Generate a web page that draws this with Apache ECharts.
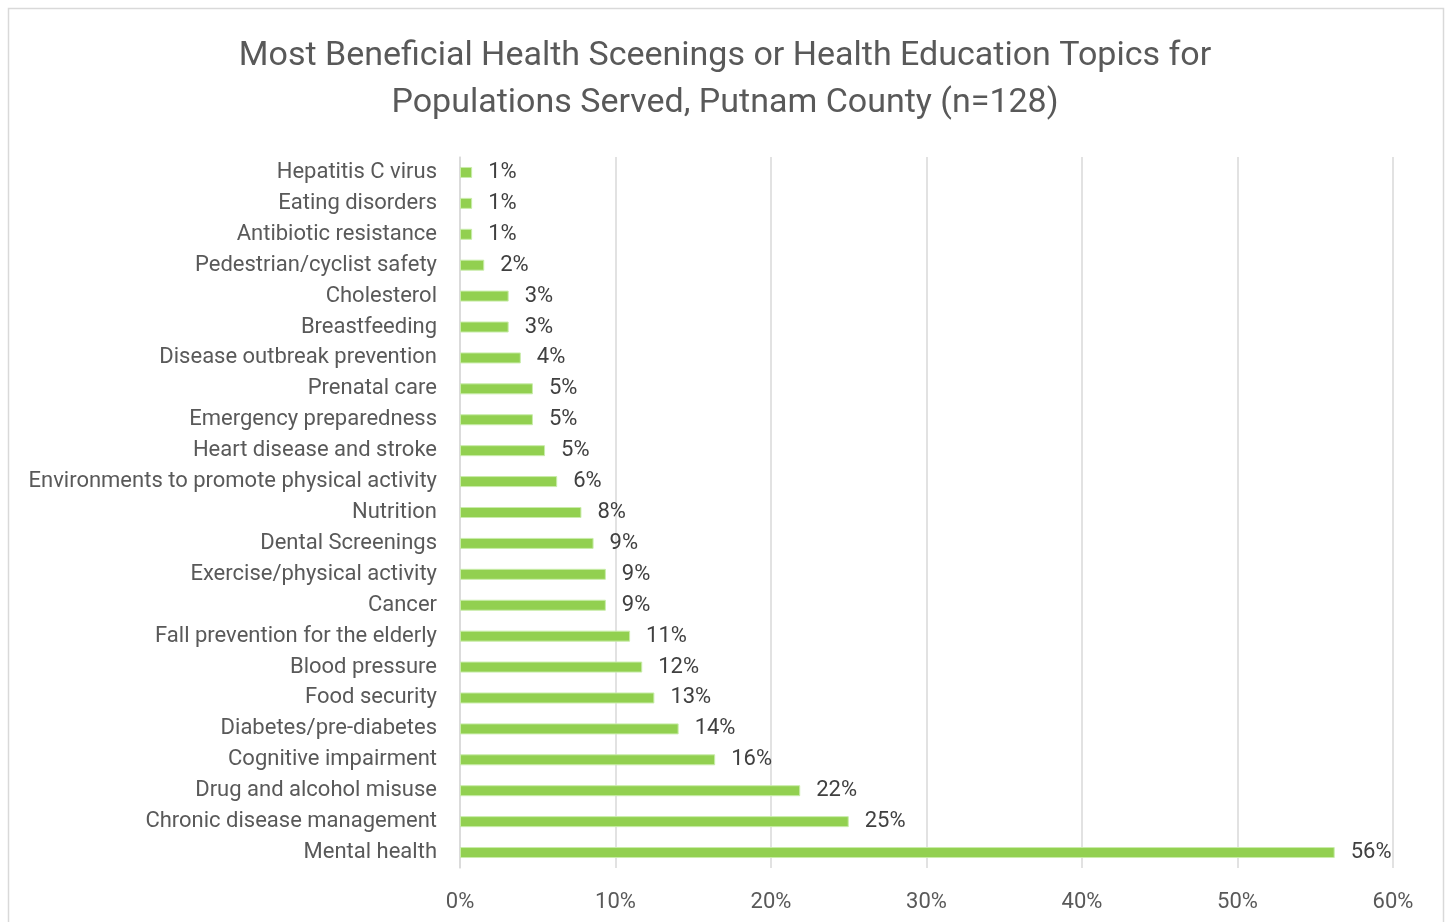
<!DOCTYPE html>
<html><head><meta charset="utf-8">
<script src="https://cdn.jsdelivr.net/npm/echarts@6/dist/echarts.min.js"></script>
<style>html,body{margin:0;padding:0;background:#fff}#c{width:1450px;height:922px}</style>
</head><body><div id="c"></div>
<script>
const categories = [
  "Hepatitis C virus","Eating disorders","Antibiotic resistance","Pedestrian/cyclist safety",
  "Cholesterol","Breastfeeding","Disease outbreak prevention","Prenatal care",
  "Emergency preparedness","Heart disease and stroke","Environments to promote physical activity",
  "Nutrition","Dental Screenings","Exercise/physical activity","Cancer",
  "Fall prevention for the elderly","Blood pressure","Food security","Diabetes/pre-diabetes",
  "Cognitive impairment","Drug and alcohol misuse","Chronic disease management","Mental health"
];
const values = [0.78,0.78,0.78,1.56,3.13,3.13,3.91,4.69,4.69,5.47,6.25,7.81,8.59,9.38,9.38,10.94,11.72,12.5,14.06,16.41,21.88,25.0,56.25];
const xTicks = [0,10,20,30,40,50,60];
const titleText = "Most Beneficial Health Sceenings or Health Education Topics for\nPopulations Served, Putnam County (n=128)";

const font = "Roboto";
const chart = echarts.init(document.getElementById('c'), null, {renderer:'canvas'});
chart.setOption({
  backgroundColor:'#fff',
  animation:false,
  title:{text:titleText,left:'center',top:28,textStyle:{fontFamily:font,fontSize:34,fontWeight:'normal',color:'#595959',lineHeight:47}},
  graphic:[{type:'rect',shape:{x:8.5,y:8.5,width:1435,height:920},style:{fill:'none',stroke:'#d9d9d9',lineWidth:1.5},silent:true}],
  grid:{left:460,right:57,top:157,bottom:54,containLabel:false},
  xAxis:{type:'value',min:xTicks[0],max:xTicks[xTicks.length-1],interval:10,
    axisLine:{show:false},axisTick:{show:false},
    splitLine:{lineStyle:{color:'#d9d9d9',width:1.5}},
    axisLabel:{formatter:v=>v+'%',fontFamily:font,fontSize:22,color:'#595959',margin:23}},
  yAxis:{type:'category',data:categories.slice().reverse(),
    axisLine:{show:true,lineStyle:{color:'#d9d9d9',width:1.5}},axisTick:{show:false},
    axisLabel:{fontFamily:font,fontSize:22,color:'#595959',margin:23,padding:[3,0,0,0]}},
  series:[{type:'bar',data:values.slice().reverse(),barWidth:11,
    itemStyle:{color:'#92D050',borderColor:'#c9ecaa',borderWidth:1},
    label:{show:true,position:'right',distance:16,padding:[3,0,0,0],formatter:p=>Math.round(p.value)+'%',fontFamily:font,fontSize:22,color:'#404040'}}]
});
</script></body></html>
